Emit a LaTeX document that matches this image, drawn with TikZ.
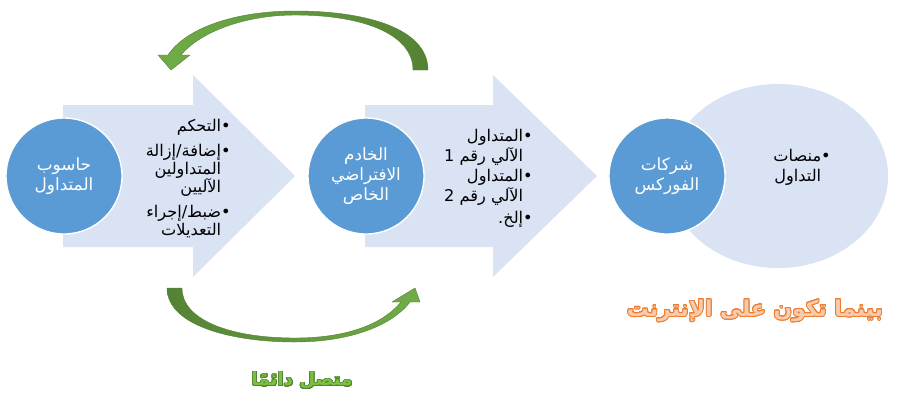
\documentclass[tikz,border=0pt]{standalone}
\usepackage{fontspec}
\usepackage[copies]{contour}
\usepackage{tikz}
\usetikzlibrary{positioning,shapes.geometric}
\TeXXeTstate=1
\newfontfamily\arabicfont[Script=Arabic]{DejaVu Sans}
\definecolor{darkblue}{RGB}{91,155,213}
\definecolor{paleblue}{RGB}{218,227,243}
\definecolor{leafgreen}{RGB}{112,173,71}
\definecolor{mossgreen}{RGB}{84,130,53}
\definecolor{textgreen}{RGB}{122,193,66}
\definecolor{lineorange}{RGB}{237,125,49}
\definecolor{paleorange}{RGB}{248,203,173}
\newcommand{\arline}[1]{\beginR#1\endR}
\newcommand{\nobullet}{\phantom{•}}

\begin{document}
\begin{tikzpicture}[x=0.025cm, y=-0.025cm,
  hub/.style={circle, draw=white, line width=1pt, fill=darkblue, minimum size=2.9cm,
              inner sep=0pt, align=center, text=white,
              font=\arabicfont\fontsize{12}{14}\selectfont},
  items/.style={inner sep=0pt, align=right,
                font=\arabicfont\fontsize{11.5}{12.8}\selectfont},
  bigarrow/.style={fill=paleblue},
  loop/.style={draw=mossgreen, line width=0.3pt}
]
\useasboundingbox (0,0) rectangle (899,410);

% Row 1: block arrows and the far ellipse
\path[bigarrow] (63,105) -- (193,105) -- (193,75) -- (295,176) -- (193,277)
  -- (193,247) -- (63,247) -- cycle;
\path[bigarrow] (365,105) -- (493,105) -- (493,75) -- (597,176) -- (493,277)
  -- (493,247) -- (365,247) -- cycle;
\node[ellipse, fill=paleblue, minimum width=5.5cm, minimum height=4.6cm,
      inner sep=0pt] (platforms) at (778,176) {};

% Row 2: the three hubs
\node[hub] (pc)    at (64,176)  {\arline{حاسوب}\\\arline{المتداول}};
\node[hub] (vps)   at (366,176) {\arline{الخادم}\\\arline{الافتراضي}\\\arline{الخاص}};
\node[hub] (forex) at (667,176) {\arline{شركات}\\\arline{الفوركس}};

% What each hub holds
\node[items, anchor=north east] (tasks) at (231,119)
  {\arline{•التحكم}\\[5pt]
   \arline{•إضافة/إزالة}\\
   \arline{\nobullet المتداولين}\\
   \arline{\nobullet الآليين}\\[5pt]
   \arline{•ضبط/إجراء}\\
   \arline{\nobullet التعديلات}};
\node[items, anchor=north east, font=\arabicfont\fontsize{11.5}{14.3}\selectfont]
  (robots) at (533,129)
  {\arline{•المتداول}\\
   \arline{\nobullet الآلي رقم 1}\\
   \arline{•المتداول}\\
   \arline{\nobullet الآلي رقم 2}\\[1pt]
   \arline{•إلخ.}};
\node[items, anchor=north east, font=\arabicfont\fontsize{11.5}{14.3}\selectfont]
  (venues) at (831,149)
  {\arline{•منصات}\\
   \arline{\nobullet التداول}};

% Curved green arrows
\shade[loop, left color=leafgreen, right color=mossgreen]
  (428,70) .. controls (428,30) and (370,11) .. (295,11)
  .. controls (235,11) and (186,28) .. (168,55)
  -- (158,55) -- (171,70) -- (190,55) -- (181,55)
  .. controls (200,32) and (245,15) .. (295,15)
  .. controls (365,15) and (413,35) .. (413,70) -- cycle;
\shade[loop, left color=mossgreen, right color=leafgreen]
  (167,288) .. controls (167,325) and (230,342) .. (295,342)
  .. controls (345,342) and (390,328) .. (410,302)
  -- (420,302) -- (415,288) -- (392,302) -- (401,302)
  .. controls (382,325) and (345,338) .. (295,338)
  .. controls (230,338) and (182,320) .. (182,288) -- cycle;

% Captions
\contourlength{0.6pt}
\contournumber{24}
\node[text=textgreen, font=\arabicfont\bfseries\fontsize{13}{16}\selectfont]
  (online) at (302,381) {\contour{mossgreen}{\arline{متصل دائمًا}}};
\node[text=paleorange, font=\arabicfont\bfseries\fontsize{15.5}{18}\selectfont]
  (whilst) at (755,311) {\contour{lineorange}{\arline{بينما تكون على الإنترنت}}};
\end{tikzpicture}
\end{document}
